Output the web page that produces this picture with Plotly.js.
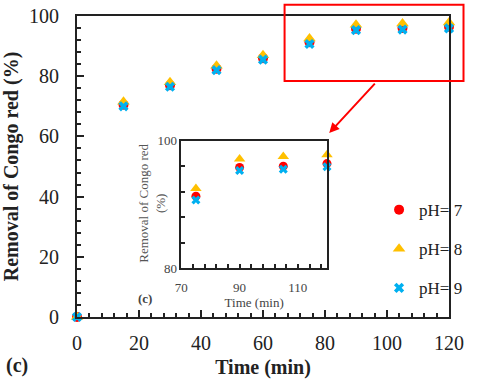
<!DOCTYPE html>
<html>
<head>
<meta charset="utf-8">
<script src="https://cdn.plot.ly/plotly-3.0.1.min.js"></script>
<style>
  body { margin: 0; background: #fff; }
  #chart { width: 480px; height: 383px; }
</style>
</head>
<body>
<div id="chart"></div>
<script>
// time in minutes
var time = [0, 15, 30, 45, 60, 75, 90, 105, 120];
// removal of Congo red (%) for each pH
var removalPH7 = [0, 70.5, 77.0, 82.5, 86.0, 91.3, 95.8, 96.0, 96.4];
var removalPH8 = [0, 71.5, 78.0, 83.5, 87.0, 92.5, 97.1, 97.5, 97.8];
var removalPH9 = [0, 70.0, 76.5, 82.0, 85.5, 90.7, 95.3, 95.5, 95.9];
var seriesNames = ['pH= 7', 'pH= 8', 'pH= 9'];
// the zoomed view shows the points from 75 min onwards
var insetStart = 5;

var colors = ['#FF0000', '#FFC000', '#00B0F0'];
var symbols = ['circle', 'triangle-up', 'x'];
var sizes = [10, 11, 9];
var allSeries = [removalPH7, removalPH8, removalPH9];

var data = [];
allSeries.forEach(function (vals, i) {
    data.push({
        x: time,
        y: vals,
        type: 'scatter',
        mode: 'markers',
        name: seriesNames[i],
        legendgroup: 'g' + i,
        cliponaxis: false,
        marker: { color: colors[i], symbol: symbols[i], size: sizes[i] }
    });
});
allSeries.forEach(function (vals, i) {
    data.push({
        x: time.slice(insetStart),
        y: vals.slice(insetStart),
        xaxis: 'x2',
        yaxis: 'y2',
        type: 'scatter',
        mode: 'markers',
        showlegend: false,
        cliponaxis: false,
        marker: { color: colors[i], symbol: symbols[i], size: sizes[i] - 1 }
    });
});

// invisible copies so the label-only axes (x3, y3, x4) get drawn
[['x3', 'y'], ['x', 'y3']].forEach(function (ax) {
    data.push({
        x: time, y: removalPH7, xaxis: ax[0], yaxis: ax[1],
        type: 'scatter', mode: 'markers', showlegend: false,
        hoverinfo: 'skip', marker: { opacity: 0 }
    });
});
data.push({
    x: time.slice(insetStart), y: removalPH7.slice(insetStart), xaxis: 'x4', yaxis: 'y2',
    type: 'scatter', mode: 'markers', showlegend: false,
    hoverinfo: 'skip', marker: { opacity: 0 }
});

var serif = '"Liberation Serif", "Times New Roman", serif';
var ink = '#222';
var none = 'rgba(0,0,0,0)';

// inside ticks + ticklabelstandoff hides the ticks, so the tick labels
// sit on overlaying axes (x3, y3, x4) while x, y, x2, y2 carry the ticks
var layout = {
    width: 480,
    height: 383,
    margin: { l: 77, r: 18, t: 16, b: 66 },
    font: { family: serif, color: ink },
    showlegend: true,
    legend: {
        x: 0.812, y: 0.415, xanchor: 'left', yanchor: 'top',
        bgcolor: 'rgba(0,0,0,0)',
        font: { size: 17, family: serif, color: ink },
        itemwidth: 30,
        tracegroupgap: 14
    },
    xaxis: {
        range: [0, 120],
        dtick: 20,
        ticks: 'inside', ticklen: 7, tickwidth: 1.5, tickcolor: ink,
        minor: { dtick: 4, ticks: 'inside', ticklen: 4, tickwidth: 1.5, tickcolor: ink },
        showline: true, linewidth: 1.5, linecolor: ink, mirror: true,
        showgrid: false, zeroline: false, showticklabels: false
    },
    yaxis: {
        range: [0, 100],
        dtick: 20,
        ticks: 'inside', ticklen: 7, tickwidth: 1.5, tickcolor: ink,
        minor: { dtick: 4, ticks: 'inside', ticklen: 4, tickwidth: 1.5, tickcolor: ink },
        showline: true, linewidth: 1.5, linecolor: ink, mirror: true,
        showgrid: false, zeroline: false, showticklabels: false
    },
    xaxis3: {
        overlaying: 'x', anchor: 'y', side: 'bottom',
        range: [0, 120], dtick: 20,
        ticks: 'outside', ticklen: 0, tickcolor: none,
        showline: false, showgrid: false, zeroline: false,
        tickfont: { size: 20 },
        ticklabelstandoff: 8,
        title: { text: '<b>Time (min)</b>', font: { size: 20 }, standoff: 6 }
    },
    yaxis3: {
        overlaying: 'y', anchor: 'x', side: 'left',
        range: [0, 100], dtick: 20,
        ticks: 'outside', ticklen: 0, tickcolor: none,
        showline: false, showgrid: false, zeroline: false,
        tickfont: { size: 20 },
        ticklabelstandoff: 13,
        title: { text: '<b>Removal of Congo red (%)</b>', font: { size: 20 }, standoff: 6 }
    },
    xaxis2: {
        domain: [0.2805, 0.672],
        anchor: 'y2',
        range: [70, 120],
        tick0: 70, dtick: 20,
        ticks: 'inside', ticklen: 4, tickwidth: 1.5, tickcolor: ink,
        minor: { tick0: 70, dtick: 4, ticks: 'inside', ticklen: 4, tickwidth: 1.5, tickcolor: ink },
        showline: true, linewidth: 1.5, linecolor: ink, mirror: true,
        showgrid: false, zeroline: false, showticklabels: false
    },
    xaxis4: {
        overlaying: 'x2', anchor: 'y2', side: 'bottom',
        range: [70, 120], tick0: 70, dtick: 20,
        ticks: 'outside', ticklen: 0, tickcolor: none,
        showline: false, showgrid: false, zeroline: false,
        tickfont: { size: 13, color: '#444' },
        ticklabelstandoff: 7,
        title: { text: 'Time (min)', font: { size: 13, color: '#444' }, standoff: 0 }
    },
    yaxis2: {
        domain: [0.162, 0.586],
        anchor: 'x2',
        range: [80, 100],
        dtick: 20,
        ticks: 'inside', ticklen: 4, tickwidth: 1.5, tickcolor: ink,
        minor: { dtick: 4, ticks: 'inside', ticklen: 4, tickwidth: 1.5, tickcolor: ink },
        showline: true, linewidth: 1.5, linecolor: ink, mirror: true,
        showgrid: false, zeroline: false,
        tickfont: { size: 13, color: '#444' }
    },
    shapes: [
        // red box around the zoomed-in points
        {
            type: 'rect', xref: 'paper', yref: 'paper',
            x0: 0.558, x1: 1.039, y0: 0.784, y1: 1.037,
            line: { color: '#FF0000', width: 2 }
        }
    ],
    annotations: [
        {
            xref: 'paper', yref: 'paper', x: 0.678, y: 0.611,
            ax: 47, ay: -51, showarrow: true, arrowhead: 2,
            arrowsize: 1, arrowwidth: 2, arrowcolor: '#FF0000', text: ''
        },
        {
            // inset y title
            xref: 'paper', yref: 'paper', x: 0.203, y: 0.378,
            xanchor: 'center', yanchor: 'middle', showarrow: false, textangle: -90,
            text: 'Removal of Congo red<br>(%)', font: { size: 13, color: '#555' }
        },
        {
            xref: 'paper', yref: 'paper', x: -0.16, y: -0.16,
            xanchor: 'center', yanchor: 'middle', showarrow: false,
            text: '<b>(c)</b>', font: { size: 20 }
        },
        {
            xref: 'paper', yref: 'paper', x: 0.182, y: 0.063,
            xanchor: 'center', yanchor: 'middle', showarrow: false,
            text: '<b>(c)</b>', font: { size: 13, color: '#444' }
        }
    ]
};

Plotly.newPlot('chart', data, layout, { displayModeBar: false, responsive: false });
</script>
</body>
</html>
